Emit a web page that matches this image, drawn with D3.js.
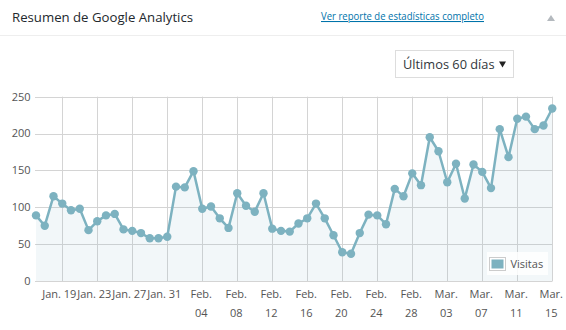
<!DOCTYPE html>
<html>
<head>
<meta charset="utf-8">
<script src="https://cdn.jsdelivr.net/npm/d3@7"></script>
<style>
  html, body { margin: 0; padding: 0; background: #fff; }
  svg { display: block; font-family: "Open Sans", "Noto Sans", sans-serif; }
</style>
</head>
<body>
<svg id="chart" width="566" height="330"></svg>
<script>
// Daily visits for the last 60 days (Jan 16 – Mar 15)
const startDay = "2016-01-16";
const visits = [
  89, 75, 115, 105, 96, 98, 69, 81, 89, 91,
  70, 68, 65, 58, 58, 60, 128, 127, 149, 98,
  101, 85, 72, 119, 102, 94, 119, 71, 68, 67,
  78, 85, 105, 85, 62, 39, 37, 65, 90, 89,
  77, 125, 115, 146, 130, 195, 176, 134, 159, 112,
  158, 148, 126, 206, 168, 220, 223, 206, 211, 234
];
// X-axis ticks every four days, with their labels (line breaks where they wrap)
const tickDates = [
  "2016-01-19", "2016-01-23", "2016-01-27", "2016-01-31", "2016-02-04",
  "2016-02-08", "2016-02-12", "2016-02-16", "2016-02-20", "2016-02-24",
  "2016-02-28", "2016-03-03", "2016-03-07", "2016-03-11", "2016-03-15"
];
const tickLabels = [
  "Jan. 19", "Jan. 23", "Jan. 27", "Jan. 31", "Feb.\n04",
  "Feb.\n08", "Feb.\n12", "Feb.\n16", "Feb.\n20", "Feb.\n24",
  "Feb.\n28", "Mar.\n03", "Mar.\n07", "Mar.\n11", "Mar.\n15"
];
const yTicks = [0, 50, 100, 150, 200, 250];
const seriesName = "Visitas";

const parse = d3.utcParse("%Y-%m-%d");
const day0 = parse(startDay);
const points = visits.map((v, i) => ({ date: d3.utcDay.offset(day0, i), value: v }));

const svg = d3.select("#chart");
const lineColor = "#7db2c0";

// Widget header
svg.append("text").attr("x", 12).attr("y", 22)
  .attr("font-size", 13.2).attr("fill", "#23282d")
  .text("Resumen de Google Analytics");
svg.append("text").attr("x", 321).attr("y", 20)
  .attr("font-size", 10.5).attr("fill", "#0073aa")
  .attr("text-decoration", "underline")
  .attr("textLength", 163).attr("lengthAdjust", "spacingAndGlyphs")
  .text("Ver reporte de estadísticas completo");
svg.append("path").attr("d", "M547,21 L551,15 L555,21 Z").attr("fill", "#b4b9be");
svg.append("line").attr("x1", 0).attr("x2", 566).attr("y1", 35.5).attr("y2", 35.5)
  .attr("stroke", "#eeeeee");

// Period selector
svg.append("rect").attr("x", 395.5).attr("y", 50.5).attr("width", 118).attr("height", 27)
  .attr("fill", "#fff").attr("stroke", "#dddddd");
svg.append("text").attr("x", 403).attr("y", 69)
  .attr("font-size", 12.8).attr("fill", "#32373c").text("Últimos 60 días");
svg.append("path").attr("d", "M499,61.5 L506,61.5 L502.5,67.5 Z").attr("fill", "#222");

// Scales
const x = d3.scaleUtc()
  .domain([points[0].date, points[points.length - 1].date])
  .range([36, 552.25]);
const y = d3.scaleLinear().domain([0, 250]).range([281, 96.7]);

const plotLeft = 35, plotRight = 552.5;

// Grid
const grid = svg.append("g").attr("stroke", "#d4d4d4").attr("stroke-width", 1);
grid.selectAll("line.h").data(yTicks).join("line")
  .attr("x1", plotLeft).attr("x2", plotRight)
  .attr("y1", d => Math.round(y(d)) + 0.5).attr("y2", d => Math.round(y(d)) + 0.5);
grid.selectAll("line.v").data(tickDates).join("line")
  .attr("x1", d => Math.round(x(parse(d))) + 0.5).attr("x2", d => Math.round(x(parse(d))) + 0.5)
  .attr("y1", y(250)).attr("y2", y(0));

// Y axis labels
svg.append("g").selectAll("text").data(yTicks).join("text")
  .attr("x", 30.5).attr("y", d => y(d)).attr("dy", "0.35em")
  .attr("text-anchor", "end").attr("font-size", 11).attr("fill", "#545454")
  .text(d => d);

// X axis labels
const xl = svg.append("g").selectAll("text").data(tickDates).join("text")
  .attr("text-anchor", "middle").attr("font-size", 11).attr("fill", "#545454")
  .attr("x", (d, i) => x(parse(d)) - (tickLabels[i].includes("\n") ? 1 : 3))
  .attr("y", 298);
xl.each(function (d, i) {
  const lines = tickLabels[i].split("\n");
  const t = d3.select(this);
  lines.forEach((ln, j) => {
    t.append("tspan").attr("x", t.attr("x")).attr("dy", j === 0 ? 0 : 19).text(ln);
  });
});

// Area under the series
const area = d3.area().x(d => x(d.date)).y0(y(0)).y1(d => y(d.value));
svg.append("path").datum(points).attr("d", area)
  .attr("fill", lineColor).attr("fill-opacity", 0.1);

// Series line and points
const line = d3.line().x(d => x(d.date)).y(d => y(d.value));
svg.append("path").datum(points).attr("d", line)
  .attr("fill", "none").attr("stroke", lineColor).attr("stroke-width", 2.5)
  .attr("stroke-linejoin", "round");
svg.append("g").selectAll("circle").data(points).join("circle")
  .attr("cx", d => x(d.date)).attr("cy", d => y(d.value)).attr("r", 4.2)
  .attr("fill", lineColor);

// Legend
const lg = svg.append("g");
lg.append("rect").attr("x", 487).attr("y", 252).attr("width", 61).attr("height", 23)
  .attr("fill", "#fff").attr("fill-opacity", 0.85);
lg.append("rect").attr("x", 489.5).attr("y", 257.5).attr("width", 16).attr("height", 13)
  .attr("fill", "#fff").attr("stroke", "#cccccc");
lg.append("rect").attr("x", 491.5).attr("y", 259.5).attr("width", 12).attr("height", 9)
  .attr("fill", lineColor);
lg.append("text").attr("x", 510.5).attr("y", 268).attr("font-size", 11)
  .attr("fill", "#545454").text(seriesName);
</script>
</body>
</html>
